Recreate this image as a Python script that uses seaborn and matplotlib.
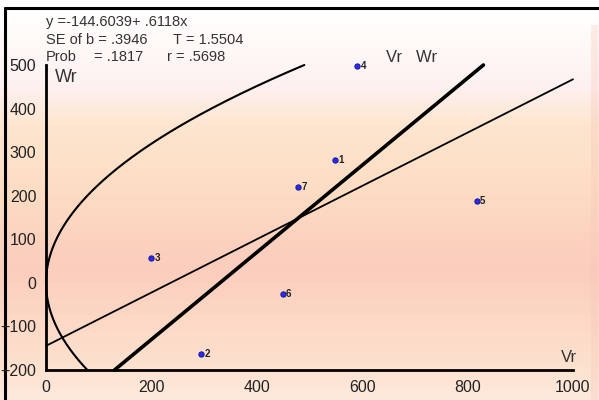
import numpy as np
import matplotlib
matplotlib.use("Agg")
import matplotlib.pyplot as plt
from matplotlib.colors import LinearSegmentedColormap
from matplotlib.patches import Rectangle
import seaborn as sns
import pandas as pd

# parents (Vr, Wr)
labels = ["1", "2", "3", "4", "5", "6", "7"]
vr = [548, 294, 199, 591, 817, 449, 479]
wr = [281, -164, 58, 497, 187, -26, 219]

# regression Wr = a + b*Vr
a, b = -144.6039, 0.6118
# limiting parabola Wr^2 = k*Vr and unit slope line
k = 510.0
unit_offset = -330.0

xticks = [0, 200, 400, 600, 800, 1000]
yticks = [-200, -100, 0, 100, 200, 300, 400, 500]

sns.set_theme(style="white")
plt.rcParams["font.family"] = ["Liberation Sans", "DejaVu Sans"]

W, H = 599, 400
fig = plt.figure(figsize=(W / 100, H / 100), dpi=100)
fig.patch.set_facecolor("white")

# background gradient (vertical)
bg = fig.add_axes([0, 0, 1, 1], zorder=-5)
stops = [(0.0, "#ffffff"), (12 / H, "#ffffff"), (40 / H, "#fffaf7"), (85 / H, "#fdf1f1"),
         (125 / H, "#fde5cf"), (185 / H, "#fddec4"), (235 / H, "#fcd3bf"), (270 / H, "#fbcdbd"),
         (320 / H, "#fcd8c5"), (370 / H, "#fde2d0"), (1.0, "#fde9dc")]
cmap = LinearSegmentedColormap.from_list("bgrad", stops)
grad = np.linspace(0, 1, 400).reshape(-1, 1)
bg.imshow(grad, cmap=cmap, aspect="auto", extent=[0, W, H, 0])
bg.add_patch(Rectangle((591, 25), 7, H, color="#f7c4b8", alpha=0.3, lw=0))
bg.plot([5, W], [8, 8], color="black", lw=2.2)
bg.plot([5, 5], [8, H], color="black", lw=2.2)
bg.set_xlim(0, W)
bg.set_ylim(H, 0)
bg.axis("off")

ax = fig.add_axes([46 / W, 1 - 370 / H, (573 - 46) / W, (370 - 65) / H])
ax.set_facecolor("none")

df = pd.DataFrame({"Vr": vr, "Wr": wr, "label": labels})

# parabola
yy = np.linspace(-200, 500, 300)
ax.plot(yy ** 2 / k, yy, color="black", lw=1.5, clip_on=False)
# regression line
xx = np.array([0, 1000])
ax.plot(xx, a + b * xx, color="black", lw=1.3, clip_on=False)
# unit slope line
xu = np.array([-200 - unit_offset, 500 - unit_offset])
ax.plot(xu, xu + unit_offset, color="black", lw=2.6, clip_on=False)

sns.scatterplot(data=df, x="Vr", y="Wr", ax=ax, color="#2a2aff", edgecolor="#1a1a9c",
                linewidth=0.8, s=14, zorder=5, clip_on=False, legend=False)
for _, r in df.iterrows():
    ax.annotate(r["label"], (r["Vr"], r["Wr"]), xytext=(2.5, 0), textcoords="offset points",
                fontsize=7, fontweight="bold", color="#222222", va="center", ha="left")

ax.set_xlim(0, 1000)
ax.set_ylim(-200, 500)
ax.set_xticks(xticks)
ax.set_yticks(yticks)
ax.set_xlabel("")
ax.set_ylabel("")
for s in ["top", "right"]:
    ax.spines[s].set_visible(False)
for s in ["left", "bottom"]:
    ax.spines[s].set_color("black")
    ax.spines[s].set_linewidth(2)
ax.tick_params(axis="both", direction="out", length=6, width=3.2, color="black",
               labelsize=11.5, labelcolor="#222222", pad=1)

def ftext(x, y, s, **kw):
    fig.text(x / W, 1 - y / H, s, va="center", ha="left", color="#333333", **kw)

ftext(46, 22, "y =-144.6039+ .6118x", fontsize=10.5)
ftext(46, 40, "SE of b = .3946", fontsize=10.5)
ftext(173, 40, "T = 1.5504", fontsize=10.5)
ftext(46, 57, "Prob", fontsize=10.5)
ftext(94, 57, "= .1817", fontsize=10.5)
ftext(167, 57, "r = .5698", fontsize=10.5)
ftext(55, 77, "Wr", fontsize=13)
ftext(386, 57, "Vr   Wr", fontsize=12)
ftext(561, 358, "Vr", fontsize=12)

fig.savefig("out.png", dpi=100)
